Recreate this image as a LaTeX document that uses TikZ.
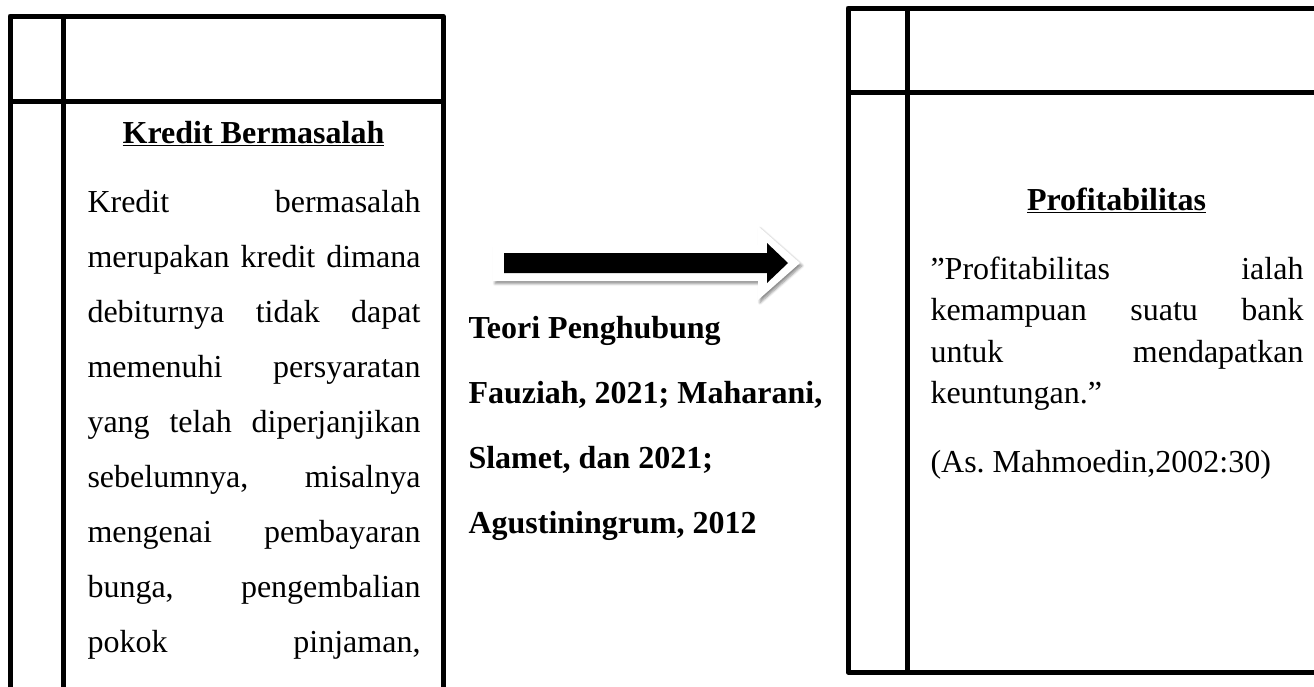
\documentclass[tikz,border=0pt]{standalone}
\usepackage{fontspec}
\setmainfont{Liberation Serif}
\usetikzlibrary{shadows.blur}
\frenchspacing

\newcommand{\kbline}[1]{\makebox[249.75pt][s]{#1}}
\newcommand{\pfline}[1]{\makebox[279.75pt][s]{#1}}

\tikzset{every picture/.style={line width=0.75pt}}
\tikzset{
	boxline/.style={line width=3.75pt, line cap=rect, line join=round},
	txt/.style={inner sep=0pt, anchor=base west},
	ttl/.style={inner sep=0pt, anchor=base}}

\begin{document}
\begin{tikzpicture}[x=0.75pt,y=0.75pt,yscale=-1,xscale=1,font=\fontsize{24}{28}\selectfont]
	\useasboundingbox (0,0) rectangle (1314,686);
	\clip (0,0) rectangle (1314,686);

	%Shape: Rectangle left, open at the bottom
	\draw [boxline] (10,700) -- (10,16) -- (443,16) -- (443,700) ;
	%Straight Lines
	\draw [boxline] (10,101) -- (443,101) ;
	%Straight Lines
	\draw [boxline] (63,16) -- (63,700) ;

	%Shape: Rectangle right, open at the right
	\draw [boxline] (1320,8) -- (848,8) -- (848,672) -- (1320,672) ;
	%Straight Lines
	\draw [boxline] (848,92) -- (1320,92) ;
	%Straight Lines
	\draw [boxline] (907,8) -- (907,672) ;

	%Shape: Right Arrow (white, shadowed)
	\path [fill=white, blur shadow={shadow xshift=1.5pt, shadow yshift=-2pt, shadow blur steps=6, shadow opacity=45}]
		(493,245) -- (758,245) -- (758,226) -- (800,263) -- (758,300) -- (758,281) -- (493,281) -- cycle ;
	%Shape: Right Arrow (black)
	\fill (504,253) -- (767,253) -- (767,243) -- (788,263) -- (767,283) -- (767,273) -- (504,273) -- cycle ;

	% Text Node
	\node [ttl] (kbtitle) at (253.5,143) {\underline{\textbf{Kredit Bermasalah}}};
	% Text Node
	\node [txt] (kb1) at (87,212) {\kbline{Kredit bermasalah}};
	% Text Node
	\node [txt] (kb2) at (87,267) {\kbline{merupakan kredit dimana}};
	% Text Node
	\node [txt] (kb3) at (87,322) {\kbline{debiturnya tidak dapat}};
	% Text Node
	\node [txt] (kb4) at (87,377) {\kbline{memenuhi persyaratan}};
	% Text Node
	\node [txt] (kb5) at (87,432) {\kbline{yang telah diperjanjikan}};
	% Text Node
	\node [txt] (kb6) at (87,487) {\kbline{sebelumnya, misalnya}};
	% Text Node
	\node [txt] (kb7) at (87,542) {\kbline{mengenai pembayaran}};
	% Text Node
	\node [txt] (kb8) at (87,597) {\kbline{bunga, pengembalian}};
	% Text Node
	\node [txt] (kb9) at (87,652) {\kbline{pokok pinjaman,}};

	% Text Node
	\node [txt] (teori) at (468,338) {\textbf{Teori Penghubung}};
	% Text Node
	\node [txt] (ref1) at (468,403) {\textbf{Fauziah, 2021; Maharani,}};
	% Text Node
	\node [txt] (ref2) at (468,468) {\textbf{Slamet, dan 2021;}};
	% Text Node
	\node [txt] (ref3) at (468,533) {\textbf{Agustiningrum, 2012}};

	% Text Node
	\node [ttl] (pftitle) at (1116.5,210) {\underline{\textbf{Profitabilitas}}};
	% Text Node
	\node [txt] (pf1) at (930,279) {\pfline{”Profitabilitas ialah}};
	% Text Node
	\node [txt] (pf2) at (930,320) {\pfline{kemampuan suatu bank}};
	% Text Node
	\node [txt] (pf3) at (930,362) {\pfline{untuk mendapatkan}};
	% Text Node
	\node [txt] (pf4) at (930,403) {keuntungan.”};
	% Text Node
	\node [txt] (pfcite) at (930,472) {(As. Mahmoedin,2002:30)};

\end{tikzpicture}
\end{document}
